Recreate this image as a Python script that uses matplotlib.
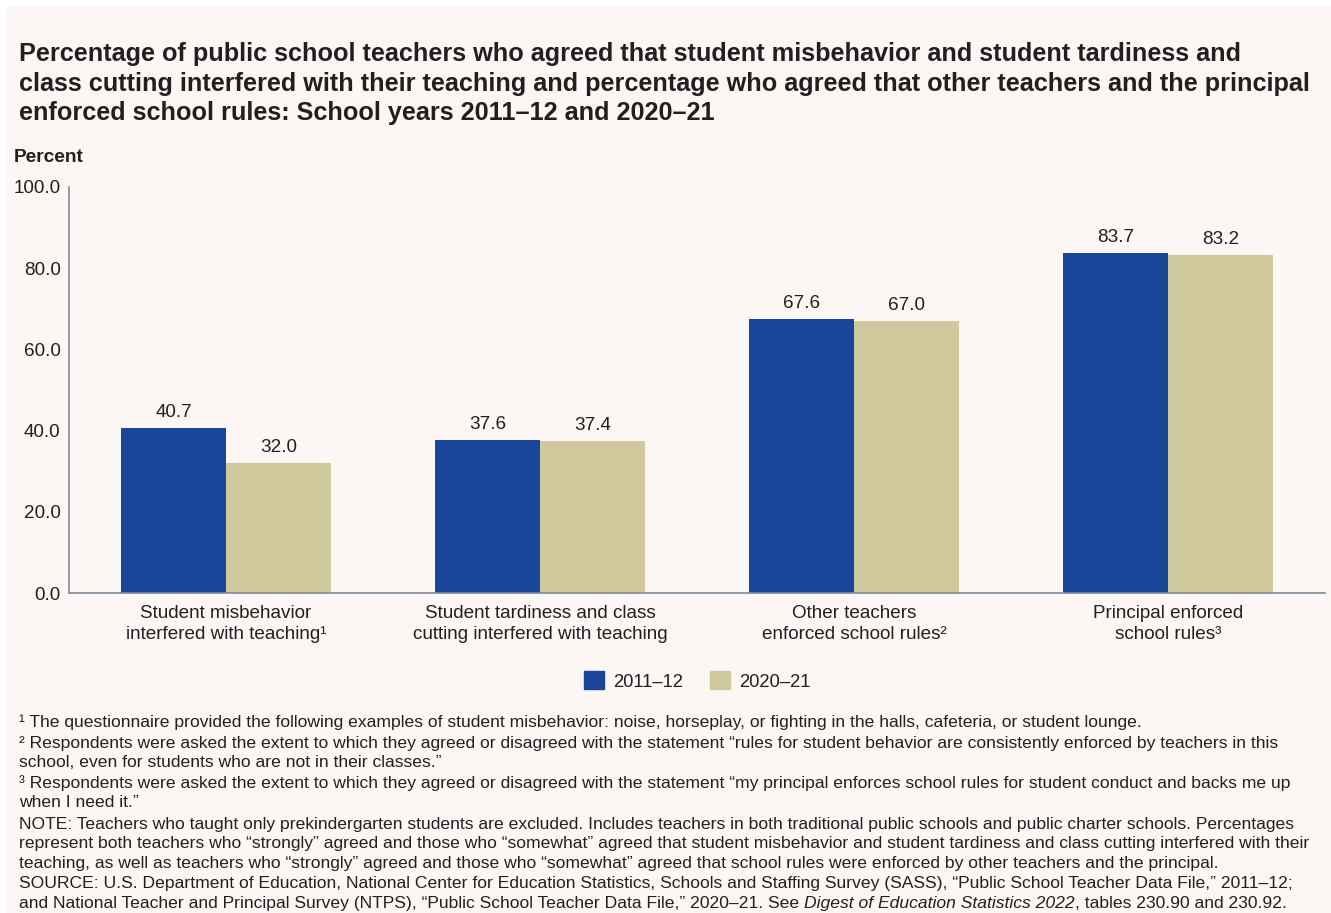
import matplotlib
matplotlib.use('Agg')
import matplotlib.pyplot as plt
from matplotlib.patches import Patch, Rectangle

plt.rcParams['font.family'] = ['Liberation Sans', 'DejaVu Sans']

categories = ['Student misbehavior\ninterfered with teaching¹',
              'Student tardiness and class\ncutting interfered with teaching',
              'Other teachers\nenforced school rules²',
              'Principal enforced\nschool rules³']
series_names = ['2011–12', '2020–21']
vals_2011 = [40.7, 37.6, 67.6, 83.7]
vals_2020 = [32.0, 37.4, 67.0, 83.2]
yticks = [0, 20, 40, 60, 80, 100]

BG = '#fcf7f5'
BLUE = '#1a4699'
TAN = '#d1c99e'
TXT = '#231f20'
W, H = 1331, 913

fig = plt.figure(figsize=(W / 100, H / 100), dpi=100, facecolor='white')
# pale panel, leaving a thin white strip on the left and top
fig.patches.append(Rectangle((7 / W, 0), 1, 1 - 7 / H, transform=fig.transFigure,
                             facecolor=BG, edgecolor='none', zorder=-10))


def px(x, y):
    return x / W, 1 - y / H


# axes in pixel terms: left 69, right 1325, top 187, bottom 593
ax = fig.add_axes([69 / W, 1 - 593 / H, (1325 - 69) / W, (593 - 187) / H])
ax.set_facecolor(BG)
xs = list(range(len(categories)))
bw = 0.334
b1 = ax.bar([x - bw / 2 for x in xs], vals_2011, bw, color=BLUE)
b2 = ax.bar([x + bw / 2 for x in xs], vals_2020, bw, color=TAN)
for bars in (b1, b2):
    for r in bars:
        ax.annotate(f'{r.get_height():.1f}', (r.get_x() + r.get_width() / 2, r.get_height()),
                    xytext=(0, 5), textcoords='offset points', ha='center', va='bottom',
                    fontsize=13.6, color=TXT)
ax.set_xlim(-0.5, 3.5)
ax.set_ylim(0, 100)
ax.set_yticks(yticks)
ax.set_yticklabels([f'{v:.1f}' for v in yticks], fontsize=13.6, color=TXT)
ax.set_xticks(xs)
ax.set_xticklabels(categories, fontsize=13.6, color=TXT, linespacing=1.25)
ax.tick_params(length=0, pad=6)
ax.tick_params(axis='x', pad=9)
for s in ('top', 'right'):
    ax.spines[s].set_visible(False)
for s in ('left', 'bottom'):
    ax.spines[s].set_color('#7d8a97')
    ax.spines[s].set_linewidth(1.2)

fig.text(*px(14, 158), 'Percent', fontsize=13.8, fontweight='bold', color=TXT, va='center')

title = ('Percentage of public school teachers who agreed that student misbehavior and student tardiness and\n'
         'class cutting interfered with their teaching and percentage who agreed that other teachers and the principal\n'
         'enforced school rules: School years 2011–12 and 2020–21')
fig.text(*px(19, 42), title, fontsize=18.2, fontweight='bold', color=TXT, va='top', linespacing=1.3)

leg = fig.legend(handles=[Patch(color=BLUE), Patch(color=TAN)], labels=series_names,
                 loc='center', bbox_to_anchor=px(697, 681), ncol=2, frameon=False,
                 fontsize=13.2, handlelength=1.1, handleheight=1.1, columnspacing=1.45,
                 handletextpad=0.5)
for t in leg.get_texts():
    t.set_color(TXT)

notes = [
    '¹ The questionnaire provided the following examples of student misbehavior: noise, horseplay, or fighting in the halls, cafeteria, or student lounge.',
    '² Respondents were asked the extent to which they agreed or disagreed with the statement “rules for student behavior are consistently enforced by teachers in this',
    'school, even for students who are not in their classes.”',
    '³ Respondents were asked the extent to which they agreed or disagreed with the statement “my principal enforces school rules for student conduct and backs me up',
    'when I need it.”',
    'NOTE: Teachers who taught only prekindergarten students are excluded. Includes teachers in both traditional public schools and public charter schools. Percentages',
    'represent both teachers who “strongly” agreed and those who “somewhat” agreed that student misbehavior and student tardiness and class cutting interfered with their',
    'teaching, as well as teachers who “strongly” agreed and those who “somewhat” agreed that school rules were enforced by other teachers and the principal.',
    'SOURCE: U.S. Department of Education, National Center for Education Statistics, Schools and Staffing Survey (SASS), “Public School Teacher Data File,” 2011–12;',
]
last_parts = ['and National Teacher and Principal Survey (NTPS), “Public School Teacher Data File,” 2020–21. See ',
              'Digest of Education Statistics 2022',
              ', tables 230.90 and 230.92.']
note_y = [722, 743, 762, 783, 802, 824, 843, 863, 883, 903]
NFS = 12.6
for s, y in zip(notes, note_y):
    fig.text(*px(19, y), s, fontsize=NFS, color=TXT, va='center')

# last line has an italic title in the middle: chain pieces end to end
p = fig.text(*px(19, note_y[-1]), last_parts[0], fontsize=NFS, color=TXT, va='center')
for i, part in enumerate(last_parts[1:]):
    p = plt.annotate(part, xy=(1, 0), xycoords=p, va='bottom', ha='left',
                     fontsize=NFS, color=TXT, style='italic' if i == 0 else 'normal',
                     annotation_clip=False)

fig.savefig('out.png', dpi=100, facecolor='white')
